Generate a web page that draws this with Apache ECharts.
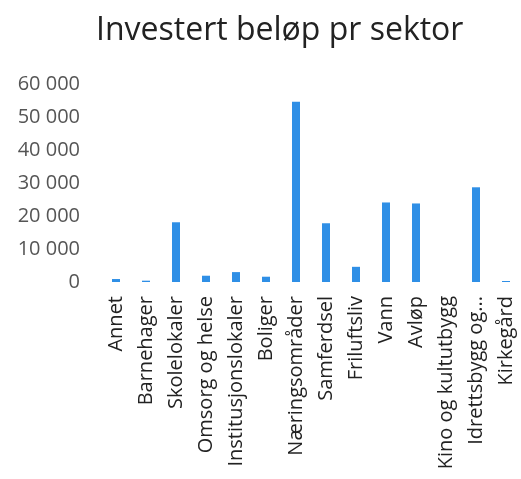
<!DOCTYPE html>
<html>
<head>
<meta charset="utf-8">
<script src="https://cdn.jsdelivr.net/npm/echarts@6/dist/echarts.min.js"></script>
<style>
  html, body { margin: 0; padding: 0; background: #fff; }
  #chart { width: 521px; height: 479px; }
</style>
</head>
<body>
<div id="chart"></div>
<script>
// sectors, as labelled on the x axis
const sectors = ['Annet', 'Barnehager', 'Skolelokaler', 'Omsorg og helse', 'Institusjonslokaler',
  'Boliger', 'Næringsområder', 'Samferdsel', 'Friluftsliv', 'Vann', 'Avløp',
  'Kino og kultutbygg', 'Idrettsbygg og...', 'Kirkegård'];
// invested amount per sector
const amounts = [900, 400, 18100, 1900, 3000, 1600, 54600, 17800, 4600, 24100, 23800, 0, 28700, 300];
const yMin = 0, yMax = 60000, yStep = 10000;

const myChart = echarts.init(document.getElementById('chart'));
myChart.setOption({
  animation: false,
  textStyle: { fontFamily: 'Open Sans' },
  title: {
    text: 'Investert beløp pr sektor',
    left: 91,
    top: 10,
    textStyle: { fontFamily: 'Open Sans', fontSize: 32, fontWeight: 'normal', color: '#222' }
  },
  grid: { left: 101, right: 0, top: 84, bottom: 197 },
  xAxis: {
    type: 'category',
    data: sectors,
    axisLine: { show: false },
    axisTick: { show: false },
    axisLabel: {
      interval: 0,
      rotate: 90,
      margin: 14,
      fontSize: 20,
      color: '#222'
    }
  },
  yAxis: {
    type: 'value',
    min: yMin,
    max: yMax,
    interval: yStep,
    splitLine: { show: false },
    axisLine: { show: false },
    axisTick: { show: false },
    axisLabel: {
      margin: 21,
      fontSize: 20,
      color: '#555',
      formatter: v => String(v).replace(/\B(?=(\d{3})+(?!\d))/g, ' ')
    }
  },
  series: [{
    type: 'bar',
    data: amounts,
    barWidth: 8,
    itemStyle: { color: '#2f8fe6' }
  }]
});
</script>
</body>
</html>
